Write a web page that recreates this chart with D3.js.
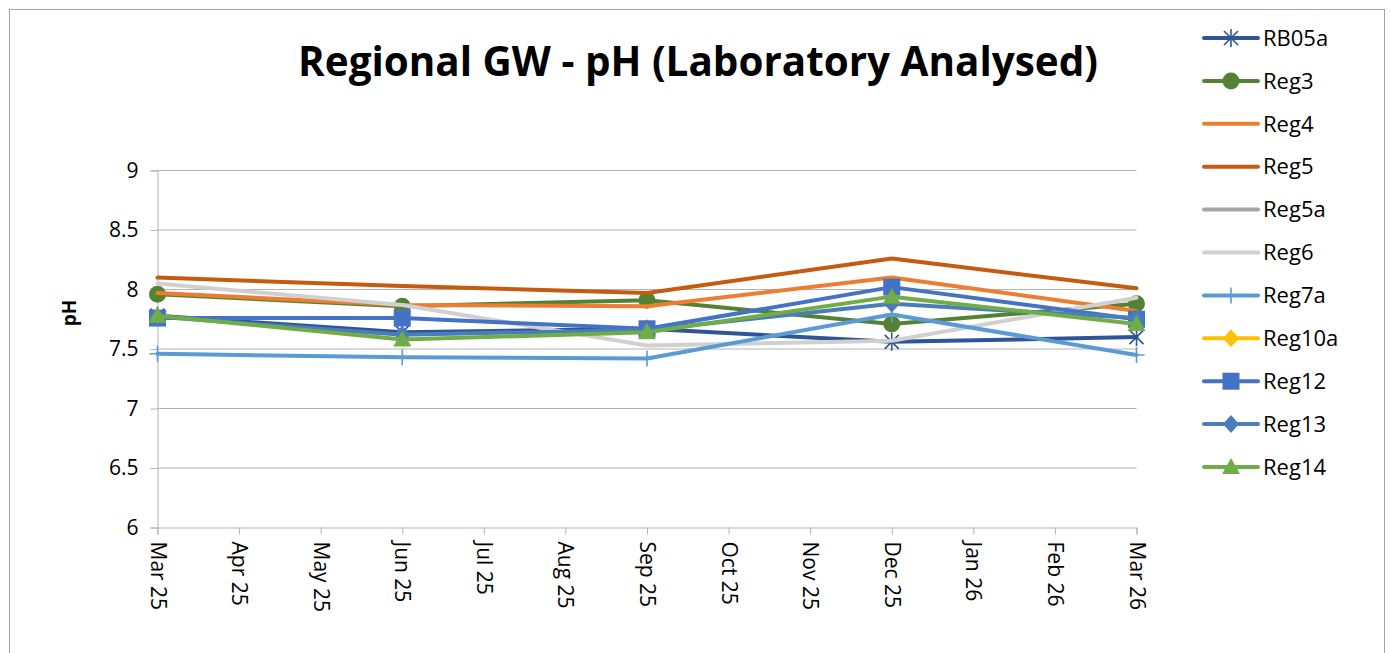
<!DOCTYPE html>
<meta charset="utf-8">
<title>Regional GW - pH (Laboratory Analysed)</title>
<style>
    body { margin: 0; background: #fff; }
    text { font-family: "Open Sans", Lato, sans-serif; fill: #000; }
    .grid line { stroke: #b3b3b3; stroke-width: 1; }
    .series path.line { fill: none; stroke-width: 4; stroke-linejoin: round; stroke-linecap: round; }
</style>

<svg width="1391" height="653"></svg>
<script src="https://cdn.jsdelivr.net/npm/d3@7"></script>
<script>

    // monthly tick labels along the date axis
    var months = ["Mar 25", "Apr 25", "May 25", "Jun 25", "Jul 25", "Aug 25", "Sep 25",
                  "Oct 25", "Nov 25", "Dec 25", "Jan 26", "Feb 26", "Mar 26"];

    // quarterly sampling rounds
    var samples = ["Mar 25", "Jun 25", "Sep 25", "Dec 25", "Mar 26"];

    var yTicks = [6, 6.5, 7, 7.5, 8, 8.5, 9];

    var names = ["RB05a", "Reg3", "Reg4", "Reg5", "Reg5a", "Reg6", "Reg7a", "Reg10a", "Reg12", "Reg13", "Reg14"];

    var rb05a  = [7.78, 7.64, 7.67, 7.56, 7.60];
    var reg3   = [7.96, 7.86, 7.91, 7.71, 7.88];
    var reg4   = [7.97, 7.87, 7.86, 8.10, 7.82];
    var reg5   = [8.10, 8.03, 7.97, 8.26, 8.01];
    var reg5a  = [null, null, null, null, null];
    var reg6   = [8.05, 7.87, 7.53, 7.57, 7.93];
    var reg7a  = [7.46, 7.43, 7.42, 7.79, 7.45];
    var reg10a = [null, null, null, null, null];
    var reg12  = [7.76, 7.76, 7.67, 8.02, 7.75];
    var reg13  = [7.77, 7.62, 7.66, 7.88, 7.76];
    var reg14  = [7.78, 7.58, 7.64, 7.94, 7.71];

    var values = [rb05a, reg3, reg4, reg5, reg5a, reg6, reg7a, reg10a, reg12, reg13, reg14];

    var colors  = ["#2f5597", "#548235", "#ed7d31", "#c55a11", "#a5a5a5", "#d0d0d0",
                   "#5b9bd5", "#ffc000", "#4472c4", "#4a7ebb", "#70ad47"];
    var markers = ["asterisk", "circle", "none", "none", "none", "none",
                   "plus", "diamond", "square", "diamond", "triangle"];

    var svg = d3.select("svg");

    // chart frame
    svg.append("rect")
        .attr("x", 9.5).attr("y", 9.5)
        .attr("width", 1375).attr("height", 660)
        .attr("fill", "none").attr("stroke", "#a6a6a6");

    var x = d3.scalePoint().domain(months).range([157.5, 1136.5]);
    var y = d3.scaleLinear().domain([6, 9]).range([527.5, 170.5]);

    // horizontal gridlines
    svg.append("g").attr("class", "grid")
        .selectAll("line").data(yTicks.slice(1)).enter().append("line")
        .attr("x1", 157.5).attr("x2", 1136.5)
        .attr("y1", function(d) { return y(d); })
        .attr("y2", function(d) { return y(d); });

    // y axis
    var yAxis = svg.append("g")
        .attr("transform", "translate(157.5,0)")
        .call(d3.axisLeft(y).tickValues(yTicks).tickSize(7).tickPadding(12)
            .tickFormat(function(d) { return d; }));
    yAxis.select(".domain").attr("stroke", "#b3b3b3");
    yAxis.selectAll(".tick line").attr("stroke", "#b3b3b3");
    yAxis.selectAll(".tick text").attr("font-size", 21).attr("font-family", "\"Open Sans\", sans-serif");

    // x axis, labels turned a quarter clockwise
    var xAxis = svg.append("g")
        .attr("transform", "translate(0,527.5)")
        .call(d3.axisBottom(x).tickSize(7).tickPadding(0));
    xAxis.select(".domain").attr("stroke", "#b3b3b3");
    xAxis.selectAll(".tick line").attr("stroke", "#b3b3b3");
    xAxis.selectAll(".tick text")
        .attr("font-size", 21).attr("font-family", "\"Open Sans\", sans-serif")
        .attr("y", 0).attr("dy", 0)
        .attr("text-anchor", "start")
        .attr("transform", "translate(-7.5,14) rotate(90)");

    // title, squeezed to the width it has in the reference
    var title = svg.append("text")
        .attr("x", 698).attr("y", 76)
        .attr("text-anchor", "middle")
        .attr("font-weight", "bold")
        .attr("font-size", 40)
        .text("Regional GW - pH (Laboratory Analysed)");
    var tw = title.node().getComputedTextLength();
    title.attr("font-size", 40 * 800 / tw);

    svg.append("text")
        .attr("transform", "translate(76,313) rotate(-90)")
        .attr("text-anchor", "middle")
        .attr("font-weight", "bold")
        .attr("font-size", 19)
        .text("pH");

    function marker(sel, type, color) {
        if (type === "circle") {
            sel.append("circle").attr("r", 8.5).attr("fill", color);
        } else if (type === "square") {
            sel.append("rect").attr("x", -8.5).attr("y", -8.5).attr("width", 17).attr("height", 17).attr("fill", color);
        } else if (type === "diamond") {
            sel.append("path").attr("d", "M0,-9L8,0L0,9L-8,0Z").attr("fill", color);
        } else if (type === "triangle") {
            sel.append("path").attr("d", "M0,-9L9,7L-9,7Z").attr("fill", color);
        } else if (type === "asterisk") {
            sel.append("path").attr("d", "M-7,-7L7,7M-7,7L7,-7M0,-9L0,9")
                .attr("stroke", color).attr("stroke-width", 1.6).attr("fill", "none");
        } else if (type === "plus") {
            sel.append("path").attr("d", "M0,-8L0,8M-8,0L8,0")
                .attr("stroke", color).attr("stroke-width", 1.6).attr("fill", "none");
        }
    }

    var line = d3.line()
        .defined(function(d) { return d.v != null; })
        .x(function(d) { return x(d.m); })
        .y(function(d) { return y(d.v); });

    // series drawn in order, later ones on top
    names.forEach(function(name, i) {
        var pts = samples.map(function(m, j) { return {m: m, v: values[i][j]}; });
        var g = svg.append("g").attr("class", "series");
        g.append("path").attr("class", "line")
            .attr("d", line(pts))
            .attr("stroke", colors[i]);
        g.selectAll("g.pt").data(pts.filter(function(d) { return d.v != null; }))
            .enter().append("g").attr("class", "pt")
            .attr("transform", function(d) { return "translate(" + x(d.m) + "," + y(d.v) + ")"; })
            .each(function() { marker(d3.select(this), markers[i], colors[i]); });
    });

    // legend
    var legend = svg.append("g").selectAll("g").data(names).enter().append("g")
        .attr("transform", function(d, i) { return "translate(1204," + (38 + i * 42.9) + ")"; });
    legend.append("line")
        .attr("x1", 0).attr("x2", 54)
        .attr("stroke", function(d, i) { return colors[i]; })
        .attr("stroke-width", 4).attr("stroke-linecap", "round");
    legend.append("g").attr("transform", "translate(27,0)")
        .each(function(d, i) { marker(d3.select(this), markers[i], colors[i]); });
    legend.append("text")
        .attr("x", 59).attr("dy", "0.35em")
        .attr("font-size", 22)
        .text(function(d) { return d; });

</script>
